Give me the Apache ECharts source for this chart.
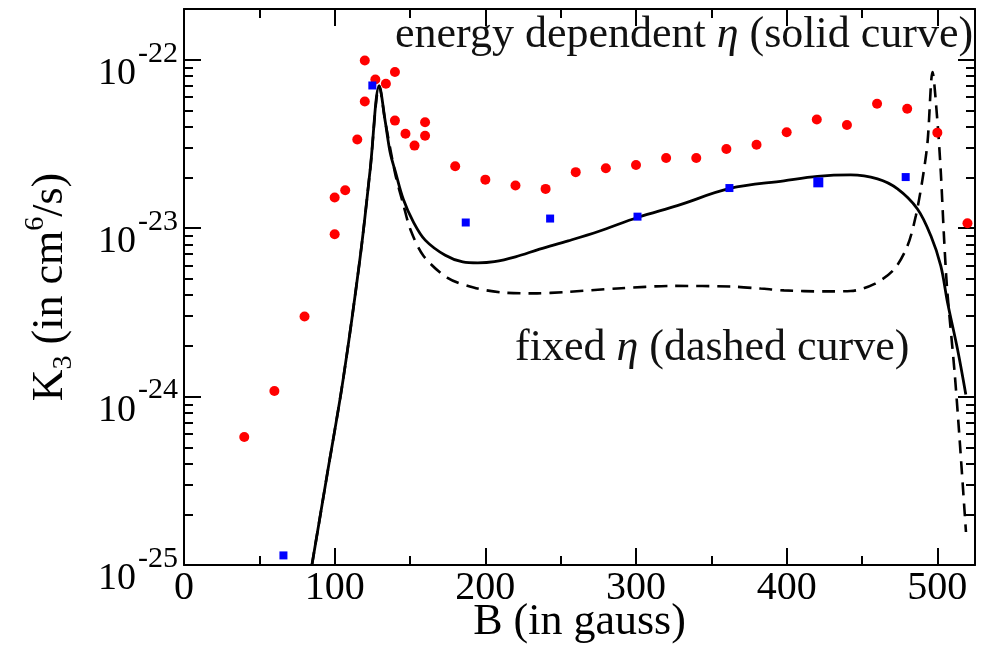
<!DOCTYPE html>
<html>
<head>
<meta charset="utf-8">
<script src="https://cdn.jsdelivr.net/npm/echarts@6/dist/echarts.min.js"></script>
<style>html,body{margin:0;padding:0;background:#fff}#c{width:983px;height:647px}</style>
</head>
<body>
<div id="c"></div>
<script>
// ---- data ----
const B_red = [40,60,80,100,100,107,115,120,120,127,134,140,140,147,153,160,160,180,200,220,240,260,280,300,320,340,360,380,400,420,440,460,480,500,520];
const K_red = [5.75e-25,1.08e-24,2.99e-24,9.2e-24,1.52e-23,1.68e-23,3.36e-23,5.65e-23,9.9e-23,7.63e-23,7.2e-23,8.45e-23,4.35e-23,3.63e-23,3.09e-23,4.25e-23,3.54e-23,2.33e-23,1.94e-23,1.79e-23,1.71e-23,2.15e-23,2.27e-23,2.37e-23,2.61e-23,2.61e-23,2.95e-23,3.13e-23,3.71e-23,4.42e-23,4.10e-23,5.47e-23,5.11e-23,3.69e-23,1.07e-23];

const B_blue = [66,125,187,243,301,362,421,479];
const K_blue = [1.14e-25,7.03e-23,1.08e-23,1.14e-23,1.17e-23,1.73e-23,1.87e-23,2.01e-23];

const B_solid = [84.9,95,105.6,117,123.6,129.6,133.6,136.9,140.2,145.5,152.2,160.1,173.4,185,195,206,220,236,255,275,301.5,327.4,362.3,398.2,420.4,442.5,460.3,473.6,486.8,495.7,502.3,506.8,513.4,518.9];
const K_solid = [1.0e-25,3.44e-25,1.26e-24,6.81e-24,2.24e-23,7.0e-23,4.28e-23,2.79e-23,2.18e-23,1.49e-23,1.09e-23,8.49e-24,6.90e-24,6.30e-24,6.22e-24,6.32e-24,6.75e-24,7.50e-24,8.40e-24,9.55e-24,1.16e-23,1.36e-23,1.72e-23,1.91e-23,2.03e-23,2.07e-23,1.96e-23,1.71e-23,1.30e-23,9.0e-24,5.97e-24,3.61e-24,1.91e-24,1.03e-24];

const B_dash = [84.9,95,105.6,117,123.6,129.6,133.6,140.2,145.5,150.2,159,174.6,192.2,212.2,234.4,252,287.5,325.1,362.8,382.7,398.2,424.8,442.5,458,471.3,480.2,485.7,490.2,493.5,496.8,500.1,502.3,504.5,506.5,511.5,514.8,519];
const K_dash = [1.0e-25,3.44e-25,1.26e-24,6.81e-24,2.24e-23,7.0e-23,4.28e-23,2.10e-23,1.39e-23,9.86e-24,6.84e-24,5.09e-24,4.44e-24,4.14e-24,4.10e-24,4.17e-24,4.38e-24,4.54e-24,4.50e-24,4.38e-24,4.27e-24,4.21e-24,4.23e-24,4.65e-24,5.70e-24,7.85e-24,1.18e-23,1.96e-23,3.24e-23,8.45e-23,4.26e-23,2.15e-23,8.61e-24,4.34e-24,1.38e-24,5.55e-25,1.57e-25];

const xMajorTicks = [0,100,200,300,400,500];
const xMinorTicks = [50,150,250,350,450];
const yDecades = [-25,-24,-23,-22];
const X_MIN = 0, X_MAX = 525;
const Y_MIN = 1e-25, Y_MAX = 2e-22;

// ---- build ----
const FONT = 'Liberation Serif';
const zip = (a, b) => a.map((v, i) => [v, b[i]]);
const LMIN = Math.log10(Y_MIN), LMAX = Math.log10(Y_MAX);
const yMinor = [];
for (const d of yDecades) for (let k = 2; k <= 9; k++) {
  const v = d + Math.log10(k);
  if (v < LMAX) yMinor.push(v);
}
const lineBlack = {color: '#000', width: 2};

function tickAxisX(pos, ticks, len, showLine, labels) {
  return {
    type: 'value', position: pos, min: X_MIN, max: X_MAX,
    axisLine: {show: showLine, onZero: false, lineStyle: lineBlack},
    axisTick: {show: true, inside: true, length: len, customValues: ticks, lineStyle: lineBlack},
    axisLabel: labels ? {show: true, customValues: ticks, fontFamily: FONT, fontSize: 40, color: '#000', margin: 3} : {show: false},
    splitLine: {show: false}
  };
}
function tickAxisY(pos, ticks, len, showLine, labels) {
  return {
    type: 'value', position: pos, min: LMIN, max: LMAX,
    axisLine: {show: showLine, onZero: false, lineStyle: lineBlack},
    axisTick: {show: true, inside: true, length: len, customValues: ticks, lineStyle: lineBlack},
    axisLabel: labels ? {
      show: true, customValues: ticks, margin: 6, padding: [12, 0, 0, 0],
      formatter: v => '{b|10}{s|' + Math.round(v) + '}',
      rich: {
        b: {fontFamily: FONT, fontSize: 38, color: '#000', lineHeight: 54, verticalAlign: 'bottom'},
        s: {fontFamily: FONT, fontSize: 30, color: '#000', lineHeight: 30, verticalAlign: 'top', padding: [0, 0, 0, 2]}
      }
    } : {show: false},
    splitLine: {show: false}
  };
}

const xAxes = [
  Object.assign(tickAxisX('bottom', xMajorTicks, 17, true, true), {
    name: 'B (in gauss)', nameLocation: 'middle', nameGap: 35, nameMoveOverlap: false,
    nameTextStyle: {fontFamily: FONT, fontSize: 44, color: '#000'}
  }),
  tickAxisX('bottom', xMinorTicks, 9, false, false),
  tickAxisX('top', xMajorTicks, 17, true, false),
  tickAxisX('top', xMinorTicks, 9, false, false)
];
const yAxes = [
  {type: 'log', logBase: 10, min: Y_MIN, max: Y_MAX, show: false},
  Object.assign(tickAxisY('left', yDecades, 17, true, true), {
    name: '{n|K}{sub|3}{n| (in cm}{sup|6}{n|/s)}', nameLocation: 'middle', nameGap: 106,
    nameTextStyle: {
      rich: {
        n: {fontFamily: FONT, fontSize: 44, color: '#000', lineHeight: 56, verticalAlign: 'middle'},
        sub: {fontFamily: FONT, fontSize: 28, color: '#000', lineHeight: 28, verticalAlign: 'bottom'},
        sup: {fontFamily: FONT, fontSize: 28, color: '#000', lineHeight: 28, verticalAlign: 'top'}
      }
    }
  }),
  tickAxisY('left', yMinor, 9, false, false),
  tickAxisY('right', yDecades, 17, true, false),
  tickAxisY('right', yMinor, 9, false, false)
];

const option = {
  animation: false,
  backgroundColor: '#fff',
  grid: {left: 184, right: 8, top: 9, bottom: 82, outerBoundsMode: 'none', containLabel: false},
  xAxis: xAxes,
  yAxis: yAxes,
  series: [
    {type: 'line', xAxisIndex: 0, yAxisIndex: 0, data: zip(B_dash, K_dash), showSymbol: false, smooth: 0.3,
     lineStyle: {color: '#000', width: 2.6, type: [13, 8]}, z: 3},
    {type: 'line', xAxisIndex: 0, yAxisIndex: 0, data: zip(B_solid, K_solid), showSymbol: false, smooth: 0.35,
     lineStyle: {color: '#000', width: 2.8}, z: 3},
    {type: 'scatter', xAxisIndex: 0, yAxisIndex: 0, data: zip(B_red, K_red), symbol: 'circle', symbolSize: 10,
     itemStyle: {color: '#ff0000', opacity: 1}, z: 4},
    {type: 'scatter', xAxisIndex: 0, yAxisIndex: 0, data: zip(B_blue, K_blue), symbol: 'rect',
     symbolSize: (v, p) => (p.dataIndex === 6 ? 10 : 8), itemStyle: {color: '#0000ff', opacity: 1}, z: 5}
  ],
  graphic: [
    {type: 'text', left: 395, top: 13, z: 10, style: {
      text: 'energy dependent {i|η} (solid curve)', fontFamily: FONT, fontSize: 44, fill: '#111',
      rich: {i: {fontFamily: FONT, fontStyle: 'italic', fontSize: 44, fill: '#111'}}
    }},
    {type: 'text', left: 515, top: 326, z: 10, style: {
      text: 'fixed {i|η} (dashed curve)', fontFamily: FONT, fontSize: 44, fill: '#111',
      rich: {i: {fontFamily: FONT, fontStyle: 'italic', fontSize: 44, fill: '#111'}}
    }}
  ]
};
const chart = echarts.init(document.getElementById('c'), null, {renderer: 'canvas'});
chart.setOption(option);
</script>
</body>
</html>
